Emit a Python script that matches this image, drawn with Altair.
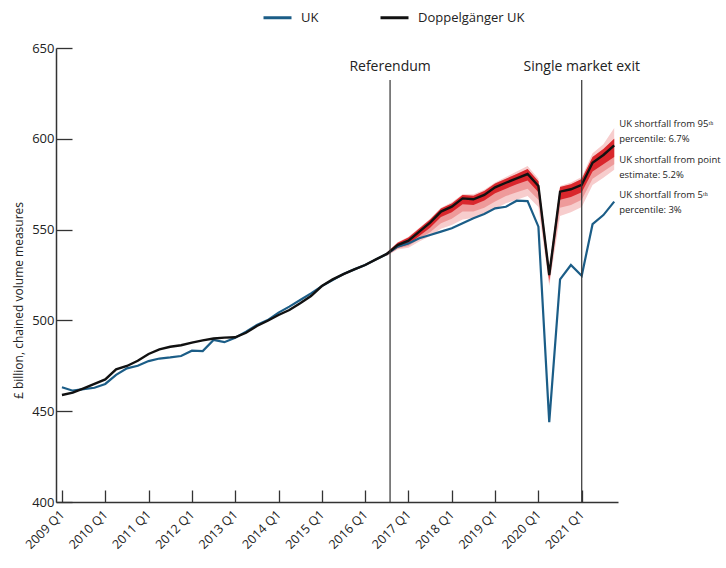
import altair as alt
import pandas as pd

# Quarter index 0 = 2009 Q1 ... 51 = 2021 Q4
quarters = list(range(52))

uk = [463.2, 461.3, 462.2, 462.9, 465.0, 470.0, 473.6, 475.0, 477.6, 479.0,
      479.6, 480.4, 483.3, 483.1, 489.2, 488.0, 490.5, 493.8, 497.5, 500.2,
      504.3, 507.6, 511.2, 514.9, 518.9, 522.2, 525.5, 528.1, 530.5, 533.6,
      536.6, 540.6, 542.4, 545.2, 547.0, 548.9, 550.7, 553.5, 556.2, 558.6,
      561.7, 562.6, 565.9, 565.7, 551.6, 444.0, 522.6, 530.5, 524.6, 553.0,
      558.0, 565.4]

doppelganger = [458.9, 460.2, 462.6, 465.0, 467.5, 473.0, 474.9, 477.8, 481.5, 484.0,
                485.5, 486.3, 487.8, 489.0, 490.0, 490.5, 490.7, 493.2, 496.9, 499.8,
                503.0, 505.7, 509.4, 513.4, 518.9, 522.6, 525.5, 528.1, 530.5, 533.6,
                536.6, 541.5, 543.9, 548.9, 553.8, 559.9, 562.6, 567.2, 566.7, 569.1,
                573.3, 575.8, 578.2, 580.6, 574.0, 525.0, 570.9, 572.2, 574.6, 586.8,
                591.1, 596.4]

# Uncertainty bands around the doppelganger, from 2016 Q3 onwards
band_quarters = quarters[30:]
p5 = [535.5, 539.0, 540.0, 543.5, 546.5, 550.5, 552.5, 555.5, 556.5, 558.5, 561.5,
      564.5, 566.5, 568.5, 562.5, 519.0, 557.5, 559.5, 562.5, 574.5, 578.5, 582.9]
p95 = [537.5, 543.0, 546.0, 551.0, 556.0, 562.0, 565.0, 569.5, 569.5, 572.0, 576.0,
       579.0, 582.0, 585.0, 578.0, 530.0, 574.0, 576.0, 579.0, 592.0, 597.0, 606.0]
mid_lo = [535.8, 539.6, 541.0, 545.0, 548.5, 553.5, 556.0, 560.0, 560.0, 562.0, 565.5,
          568.5, 570.5, 572.5, 566.5, 520.5, 562.0, 563.5, 566.5, 578.0, 582.0, 586.0]
inner_lo = [536.0, 540.0, 542.0, 546.5, 551.0, 557.0, 559.5, 564.0, 563.5, 566.0, 570.0,
            572.5, 575.0, 577.0, 570.5, 522.0, 566.5, 568.0, 570.5, 582.0, 586.0, 590.0]
inner_hi = [537.2, 542.8, 545.6, 550.6, 555.6, 561.6, 564.4, 569.0, 568.6, 571.2, 575.4,
            578.0, 580.6, 583.4, 576.6, 528.0, 573.4, 575.0, 577.8, 590.0, 594.4, 600.0]

event_names = ["Referendum", "Single market exit"]
event_quarters = [30.3, 48]

notes = [
    ["UK shortfall from 95ᵗʰ", "percentile: 6.7%"],
    ["UK shortfall from point", "estimate: 5.2%"],
    ["UK shortfall from 5ᵗʰ", "percentile: 3%"],
]

FONT = "Open Sans"
UK_BLUE = "#1b5d87"
INK = "#333333"
W, H = 562, 454

series = pd.DataFrame({
    "q": quarters * 2,
    "value": uk + doppelganger,
    "series": ["UK"] * len(uk) + ["Doppelgänger UK"] * len(doppelganger),
})
bands = pd.DataFrame({"q": band_quarters, "p5": p5, "p95": p95, "mid_lo": mid_lo,
                      "inner_lo": inner_lo, "inner_hi": inner_hi})
events = pd.DataFrame({"name": event_names, "q": event_quarters})
note_df = pd.DataFrame({"q": [quarters[-1]] * 3, "text": notes, "row": [0, 1, 2]})

xs = alt.Scale(domain=[-0.55, 51.35], nice=False, zero=False)
ys = alt.Scale(domain=[400, 650], nice=False, zero=False)
color_scale = alt.Scale(domain=["UK", "Doppelgänger UK"], range=[UK_BLUE, "#111111"])

legend = alt.Legend(
    title=None, orient="none", legendX=206, legendY=-46, direction="horizontal",
    symbolType="stroke", symbolSize=784, symbolStrokeWidth=3, labelFont=FONT,
    labelFontSize=13, labelColor="#222", labelOffset=8, columnPadding=55, padding=0,
)

x_main = alt.X("q:Q", scale=xs, axis=alt.Axis(
    values=list(range(0, 49, 4)), labelExpr="(2009 + datum.value / 4) + ' Q1'",
    labelAngle=-45, labelAlign="right", labelBaseline="middle", labelPadding=10,
    labelFont=FONT, labelFontSize=12.5, labelColor="#222", ticks=False,
    domainColor=INK, domainWidth=1.5, title=None, grid=False))
y_main = alt.Y("value:Q", scale=ys, axis=alt.Axis(
    values=[400, 450, 500, 550, 600, 650], labelFont=FONT, labelFontSize=13,
    labelColor="#222", labelPadding=2, ticks=False, domainColor=INK, domainWidth=1.5,
    grid=False, title="£ billion, chained volume measures", titleFont=FONT,
    titleFontSize=12, titleFontWeight="normal", titleColor="#222", titleAngle=-90,
    titleX=-38, titleY=252, titleAlign="center", titleBaseline="middle"))

# Inward-pointing ticks: extra axes moved onto the opposite edge
x_ticks = alt.X("q:Q", scale=xs, axis=alt.Axis(
    orient="top", offset=-H, values=list(range(0, 49, 4)), labels=False, domain=False,
    tickSize=12, tickColor=INK, tickWidth=1.3, title=None, grid=False))
y_ticks = alt.Y("value:Q", scale=ys, axis=alt.Axis(
    orient="right", offset=-W, values=[400, 450, 500, 550, 600, 650], labels=False,
    domain=False, tickSize=16, tickColor=INK, tickWidth=1.3, title=None, grid=False))

qx = alt.X("q:Q", scale=xs, axis=None)


def band(lo, hi, colour):
    return alt.Chart(bands).mark_area(color=colour, opacity=1).encode(
        x=qx, y=alt.Y(f"{lo}:Q", scale=ys, axis=None), y2=f"{hi}:Q")


outer = band("p5", "p95", "#f7cdcd")
middle = band("mid_lo", "inner_hi", "#ee9a9a")
inner = band("inner_lo", "inner_hi", "#d9262c")

uk_line = alt.Chart(series).transform_filter(alt.datum.series == "UK").mark_line(
    strokeWidth=2.2).encode(
    x=x_main, y=y_main, color=alt.Color("series:N", scale=color_scale, legend=legend))
dop_line = alt.Chart(series).transform_filter(
    alt.datum.series == "Doppelgänger UK").mark_line(strokeWidth=2.4).encode(
    x=qx, y=alt.Y("value:Q", scale=ys, axis=None),
    color=alt.Color("series:N", scale=color_scale, legend=legend))

tick_layer = alt.Chart(series).mark_line(opacity=0).encode(x=x_ticks, y=y_ticks)

event_rules = alt.Chart(events).mark_rule(color=INK, strokeWidth=1.2).encode(
    x=qx, y=alt.value(32), y2=alt.value(H))
event_text = alt.Chart(events).mark_text(
    font=FONT, fontSize=14, color="#222", baseline="middle").encode(
    x=qx, y=alt.value(19), text="name:N")

note_text = alt.Chart(note_df).mark_text(
    font=FONT, fontSize=9.5, color="#222", align="left", baseline="top",
    lineHeight=15, dx=5).encode(
    x=qx, y=alt.Y("row:Q", scale=alt.Scale(domain=[0, 2], range=[71, 142]), axis=None),
    text="text")

chart = alt.layer(
    tick_layer, outer, middle, inner, uk_line, dop_line, event_rules, event_text, note_text
).resolve_axis(x="independent", y="independent").resolve_scale(
    y="independent"
).properties(
    width=W, height=H,
    padding={"left": 56, "top": 48, "right": 726 - 56 - W, "bottom": 568 - 48 - H},
    autosize=alt.AutoSizeParams(type="none"),
    background="white",
).configure_view(stroke=None)

chart.save("out.html", embed_options={"renderer": "svg", "actions": False})
